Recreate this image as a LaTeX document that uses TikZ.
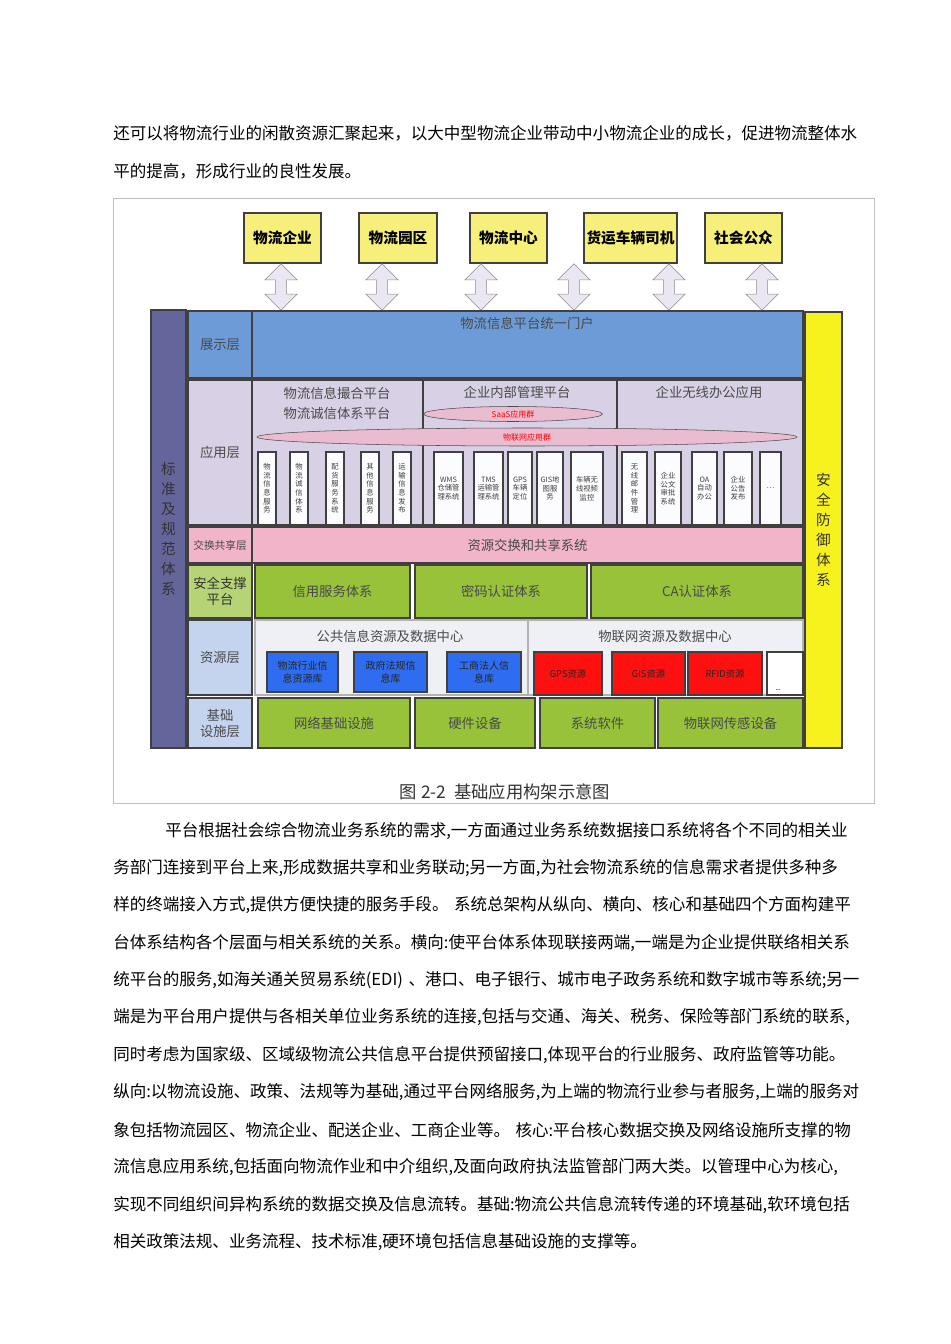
\documentclass[tikz,border=0pt]{standalone}
\usepackage{fontspec}
\setmainfont{Noto Sans CJK SC}
\usetikzlibrary{shapes.arrows,shapes.geometric}
\XeTeXlinebreaklocale "zh"
\XeTeXlinebreakskip=0pt plus 2pt
\definecolor{ylw}{HTML}{F6F07A}
\definecolor{ylw2}{HTML}{F7F21E}
\definecolor{purp}{HTML}{64659B}
\definecolor{blu}{HTML}{6C9BD7}
\definecolor{lav}{HTML}{D8D0E4}
\definecolor{pnk}{HTML}{F2B4C8}
\definecolor{grn}{HTML}{97C23A}
\definecolor{lblu}{HTML}{C5D4EE}
\definecolor{wht}{HTML}{EEF0F6}
\definecolor{bbox}{HTML}{2E6CF0}
\definecolor{rbox}{HTML}{FF1010}
\definecolor{txt}{HTML}{4A4A4A}
\newcommand\bx[7]{\node[#6, minimum width={(#4-#2)*0.75pt}, minimum height={(#5-#3)*0.75pt}] (#1) at ({(#2+#4)/2},{(#3+#5)/2}) {#7};}
\tikzset{
 cell/.style={draw=black!75, line width=0.8pt, inner sep=0pt, text=txt, font=\fontsize{10}{12}\selectfont, align=center},
 top/.style={cell, fill=ylw, text=black, font=\fontsize{11}{13}\selectfont\bfseries},
 vbox/.style={cell, fill=white!92!lav, font=\fontsize{5.5}{6.5}\selectfont, text=black!75},
 body/.style={anchor=west, inner sep=0pt, text width=560pt, font=\fontsize{12.4}{14}\selectfont},
 dar/.style={double arrow, shape border rotate=90, draw=black!45, fill=lav!50!white, minimum height=35pt, minimum width=15pt, double arrow head extend=8pt, inner sep=4pt},
 bb/.style={cell,fill=bbox,font=\fontsize{7.5}{10}\selectfont,text=black!85},
 rb/.style={cell,fill=rbox,font=\fontsize{7}{9}\selectfont,text=black!85},
}
\begin{document}
\begin{tikzpicture}[x=0.75pt,y=-0.75pt]
\useasboundingbox (0,0) rectangle (950,1344);
\fill[white] (0,0) rectangle (950,1344);
% body text before
\node[body] (t1) at (113,133) {\parfillskip=0pt 还可以将物流行业的闲散资源汇聚起来，以大中型物流企业带动中小物流企业的成长，促进物流整体水};
\node[body] (t2) at (113,171) {平的提高，形成行业的良性发展。};
% frame
\draw[black!25, line width=0.6pt] (113,198) rectangle (874,803);
% top boxes
\bx{a1}{244}{213}{321}{263}{top}{物流企业}
\bx{a2}{359}{213}{437}{263}{top}{物流园区}
\bx{a3}{470}{213}{547}{263}{top}{物流中心}
\bx{a4}{584}{213}{677}{263}{top}{货运车辆司机}
\bx{a5}{705}{213}{782}{263}{top}{社会公众}
\foreach \x/\n in {281/1,382/2,481/3,574/4,669/5,762/6} \node[dar] (ar\n) at (\x,287) {};
% side columns
\bx{std}{151}{310}{186}{748}{cell,fill=purp,text=black!80,font=\fontsize{11}{15}\selectfont}{标\\准\\及\\规\\范\\体\\系}
\bx{sec}{805}{312}{842}{748}{cell,fill=ylw2,text=black!80,font=\fontsize{11}{15}\selectfont}{安\\全\\防\\御\\体\\系}
% display layer
\bx{l1}{188}{311}{252}{378}{cell,fill=blu}{展示层}
\bx{portal}{252}{311}{803}{378}{cell,fill=blu}{}
\node[text=txt, font=\fontsize{10}{12}\selectfont] (pt) at (527,323) {物流信息平台统一门户};
% application layer
\bx{l2}{188}{380}{252}{525}{cell,fill=lav}{应用层}
\bx{ap1}{252}{380}{423}{525}{cell,fill=lav}{}
\bx{ap2}{423}{380}{617}{525}{cell,fill=lav}{}
\bx{ap3}{617}{380}{803}{525}{cell,fill=lav}{}
\node[text=txt, font=\fontsize{10}{15}\selectfont, align=center, anchor=north] (h1) at (337,382) {物流信息撮合平台\\物流诚信体系平台};
\node[text=txt, font=\fontsize{10}{12}\selectfont] (h2) at (517,392) {企业内部管理平台};
\node[text=txt, font=\fontsize{10}{12}\selectfont] (h3) at (709,392) {企业无线办公应用};
\node[ellipse, draw=black!70, fill=pnk!70!lav, minimum width=179*0.75pt, minimum height=15*0.75pt, inner sep=0pt, text=red, font=\fontsize{6}{7}\selectfont] (saas) at (513,414) {SaaS应用群};
\node[ellipse, draw=black!70, fill=pnk!70!lav, minimum width=540*0.75pt, minimum height=18*0.75pt, inner sep=0pt, text=red, font=\fontsize{6}{7}\selectfont] (iot) at (527,437) {物联网应用群};
\bx{v1}{258}{452}{276}{525}{vbox}{物\\流\\信\\息\\服\\务}
\bx{v2}{290}{452}{308}{525}{vbox}{物\\流\\诚\\信\\体\\系}
\bx{v3}{326}{452}{344}{525}{vbox}{配\\货\\服\\务\\系\\统}
\bx{v4}{361}{452}{379}{525}{vbox}{其\\他\\信\\息\\服\\务}
\bx{v5}{393}{452}{411}{525}{vbox}{运\\输\\信\\息\\发\\布}
\bx{v6}{434}{452}{463}{525}{vbox}{WMS\\仓储管\\理系统}
\bx{v7}{474}{452}{503}{525}{vbox}{TMS\\运输管\\理系统}
\bx{v8}{508}{452}{532}{525}{vbox}{GPS\\车辆\\定位}
\bx{v9}{537}{452}{563}{525}{vbox}{GIS地\\图服\\务}
\bx{v10}{571}{452}{603}{525}{vbox}{车辆无\\线视频\\监控}
\bx{v11}{622}{452}{647}{525}{vbox}{无\\线\\邮\\件\\管\\理}
\bx{v12}{655}{452}{681}{525}{vbox}{企业\\公文\\审批\\系统}
\bx{v13}{692}{452}{717}{525}{vbox}{OA\\自动\\办公}
\bx{v14}{724}{452}{752}{525}{vbox}{企业\\公告\\发布}
\bx{v15}{760}{452}{781}{525}{vbox}{…}
% exchange layer
\bx{l3}{188}{527}{252}{563}{cell,fill=pnk,font=\fontsize{8}{9}\selectfont}{交换共享层}
\bx{ex}{252}{527}{803}{563}{cell,fill=pnk}{资源交换和共享系统}
% security support
\bx{l4}{188}{565}{252}{618}{cell,fill=grn!70!white,text=black!80,font=\fontsize{10}{12}\selectfont}{安全支撑\\平台}
\bx{s1}{255}{565}{410}{618}{cell,fill=grn}{信用服务体系}
\bx{s2}{415}{565}{587}{618}{cell,fill=grn}{密码认证体系}
\bx{s3}{591}{565}{803}{618}{cell,fill=grn}{CA认证体系}
% resource layer
\bx{l5}{188}{620}{252}{695}{cell,fill=lblu}{资源层}
\bx{r1}{255}{620}{528}{695}{cell,fill=wht,draw=black!30}{}
\bx{r2}{528}{620}{803}{695}{cell,fill=wht,draw=black!30}{}
\node[text=txt, font=\fontsize{10}{12}\selectfont] (rh1) at (390,636) {公共信息资源及数据中心};
\node[text=txt, font=\fontsize{10}{12}\selectfont] (rh2) at (665,636) {物联网资源及数据中心};
\bx{b1}{267}{652}{338}{692}{bb}{物流行业信\\息资源库}
\bx{b2}{354}{652}{427}{692}{bb}{政府法规信\\息库}
\bx{b3}{447}{652}{521}{692}{bb}{工商法人信\\息库}
\bx{c1}{534}{652}{602}{695}{rb}{GPS资源}
\bx{c2}{612}{652}{685}{695}{rb}{GIS资源}
\bx{c3}{688}{652}{762}{695}{rb}{RFID资源}
\bx{c4}{767}{652}{803}{695}{cell,fill=white}{}
\node[font=\fontsize{6}{7}\selectfont, anchor=south] (dd) at (778,695) {..};
% base layer
\bx{l6}{188}{698}{252}{748}{cell,fill=lblu}{基础\\设施层}
\bx{f1}{258}{698}{410}{748}{cell,fill=grn}{网络基础设施}
\bx{f2}{415}{698}{535}{748}{cell,fill=grn}{硬件设备}
\bx{f3}{540}{698}{655}{748}{cell,fill=grn}{系统软件}
\bx{f4}{658}{698}{803}{748}{cell,fill=grn}{物联网传感设备}
% caption
\node[font=\fontsize{13}{15}\selectfont, text=black!80] (cap) at (505,792) {图 2-2\ \ 基础应用构架示意图};
% body text after
\node[body] (p1) at (113,831) {\parfillskip=0pt \hspace*{52\dimexpr0.75pt\relax}平台根据社会综合物流业务系统的需求,一方面通过业务系统数据接口系统将各个不同的相关业};
\node[body] (p2) at (113,868) {\parfillskip=0pt 务部门连接到平台上来,形成数据共享和业务联动;另一方面,为社会物流系统的信息需求者提供多种多};
\node[body] (p3) at (113,905) {\parfillskip=0pt 样的终端接入方式,提供方便快捷的服务手段。 系统总架构从纵向、横向、核心和基础四个方面构建平};
\node[body] (p4) at (113,943) {\parfillskip=0pt 台体系结构各个层面与相关系统的关系。横向:使平台体系体现联接两端,一端是为企业提供联络相关系};
\node[body] (p5) at (113,980) {\parfillskip=0pt 统平台的服务,如海关通关贸易系统(EDI) 、港口、电子银行、城市电子政务系统和数字城市等系统;另一};
\node[body] (p6) at (113,1017) {\parfillskip=0pt 端是为平台用户提供与各相关单位业务系统的连接,包括与交通、海关、税务、保险等部门系统的联系,};
\node[body] (p7) at (113,1055) {\parfillskip=0pt 同时考虑为国家级、区域级物流公共信息平台提供预留接口,体现平台的行业服务、政府监管等功能。};
\node[body] (p8) at (113,1092) {\parfillskip=0pt 纵向:以物流设施、政策、法规等为基础,通过平台网络服务,为上端的物流行业参与者服务,上端的服务对};
\node[body] (p9) at (113,1130) {\parfillskip=0pt 象包括物流园区、物流企业、配送企业、工商企业等。 核心:平台核心数据交换及网络设施所支撑的物};
\node[body] (p10) at (113,1167) {\parfillskip=0pt 流信息应用系统,包括面向物流作业和中介组织,及面向政府执法监管部门两大类。以管理中心为核心,};
\node[body] (p11) at (113,1205) {\parfillskip=0pt 实现不同组织间异构系统的数据交换及信息流转。基础:物流公共信息流转传递的环境基础,软环境包括};
\node[body] (p12) at (113,1242) {相关政策法规、业务流程、技术标准,硬环境包括信息基础设施的支撑等。};
\end{tikzpicture}
\end{document}
